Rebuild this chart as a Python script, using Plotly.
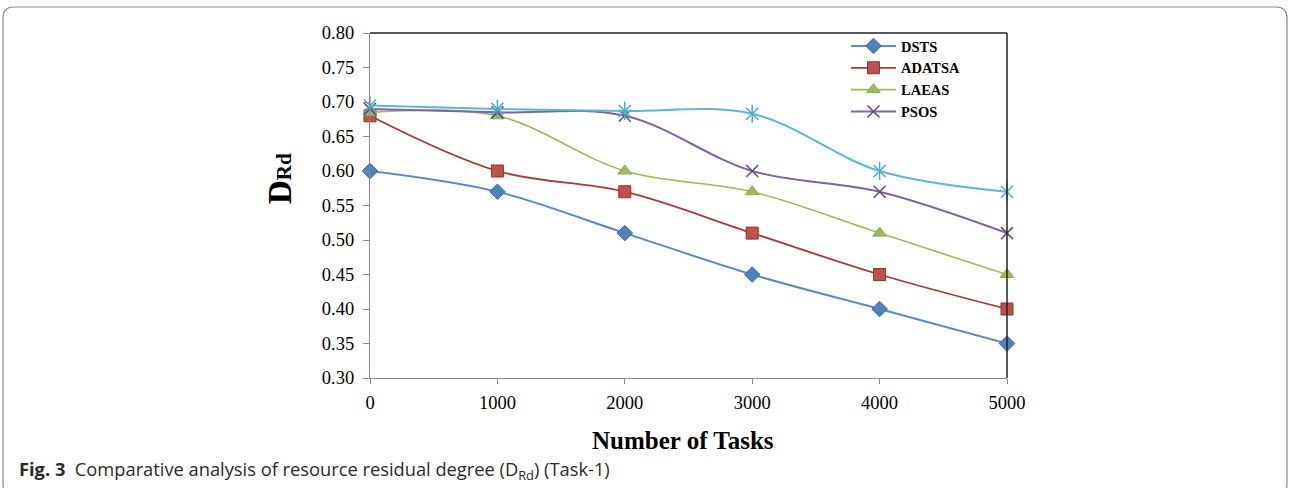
import plotly.graph_objects as go

tasks = [0, 1000, 2000, 3000, 4000, 5000]
dsts = [0.60, 0.57, 0.51, 0.45, 0.40, 0.35]
adatsa = [0.68, 0.60, 0.57, 0.51, 0.45, 0.40]
laeas = [0.685, 0.68, 0.60, 0.57, 0.51, 0.45]
psos = [0.69, 0.685, 0.68, 0.60, 0.57, 0.51]
fifth = [0.695, 0.69, 0.687, 0.683, 0.60, 0.57]
y_ticks = [0.30, 0.35, 0.40, 0.45, 0.50, 0.55, 0.60, 0.65, 0.70, 0.75, 0.80]
x_ticks = [0, 1000, 2000, 3000, 4000, 5000]

W, H = 1290, 488
L, R, T, B = 370, 1007, 33, 378  # plot area pixel bounds
pw, ph = R - L, B - T

def px(x):
    return (x - L) / pw

def py(y):
    return (B - y) / ph

fig = go.Figure()
serif = "Liberation Serif"

def add(name, ys, lcolor, lwidth, symbol, mfill, mline, msize, show=True):
    fig.add_trace(go.Scatter(
        x=tasks, y=ys, name=name, mode="lines+markers",
        line=dict(color=lcolor, width=lwidth, shape="spline", smoothing=1),
        marker=dict(symbol=symbol, size=msize, color=mfill,
                    line=dict(color=mline, width=1.5 if "open" in symbol else 1)),
        cliponaxis=False, showlegend=show))

add("DSTS", dsts, "#5B8BC8", 2, "diamond", "#4F81BD", "#3B6CA8", 12)
add("ADATSA", adatsa, "#A33C3A", 1.8, "square", "#C0504D", "#8E3330", 12)
add("LAEAS", laeas, "#9BBB59", 1.6, "triangle-up", "#9BBB59", "#8EAD4E", 12)
add("PSOS", psos, "#8064A2", 2, "x-thin-open", "#5E4A80", "#5E4A80", 12)
# fifth (unlabelled) series with star markers
add("", fifth, "#5BB8D4", 2, "x-thin-open", "#4BACC6", "#4BACC6", 12, show=False)
fig.add_trace(go.Scatter(
    x=tasks, y=fifth, mode="markers", showlegend=False, cliponaxis=False,
    marker=dict(symbol="line-ns-open", size=13, color="#4BACC6",
                line=dict(color="#4BACC6", width=1.5))))

shapes = [
    dict(type="line", xref="paper", yref="paper", x0=0, x1=1, y0=1, y1=1,
         line=dict(color="#222", width=1.5)),
    dict(type="line", xref="paper", yref="paper", x0=1, x1=1, y0=0, y1=1,
         line=dict(color="#222", width=1.5)),
]
x0, x1, y0, y1, r = 3, 1287, 7, 495, 11
path = (f"M {px(x0+r)},{py(y0)} L {px(x1-r)},{py(y0)} "
        f"Q {px(x1)},{py(y0)} {px(x1)},{py(y0+r)} "
        f"L {px(x1)},{py(y1-r)} Q {px(x1)},{py(y1)} {px(x1-r)},{py(y1)} "
        f"L {px(x0+r)},{py(y1)} Q {px(x0)},{py(y1)} {px(x0)},{py(y1-r)} "
        f"L {px(x0)},{py(y0+r)} Q {px(x0)},{py(y0)} {px(x0+r)},{py(y0)} Z")
shapes.append(dict(type="path", xref="paper", yref="paper", path=path,
                   line=dict(color="#8a8a8a", width=1.2), layer="below"))

annotations = [
    dict(xref="paper", yref="paper", x=px(280), y=py(179), textangle=-90,
         text="<b>D<span style='font-size:21px'>Rd</span></b>",
         showarrow=False, font=dict(family=serif, size=33, color="black"),
         xanchor="center", yanchor="middle"),
    dict(xref="paper", yref="paper", x=px(683), y=py(440),
         text="<b>Number of Tasks</b>", showarrow=False,
         font=dict(family=serif, size=25, color="black"),
         xanchor="center", yanchor="middle"),
    dict(xref="paper", yref="paper", x=px(17), y=py(470),
         text="<b>Fig. 3</b>  Comparative analysis of resource residual degree (D<sub>Rd</sub>) (Task-1)",
         showarrow=False, font=dict(family="Open Sans", size=18.3, color="#2a2a2a"),
         xanchor="left", yanchor="middle"),
]

fig.update_layout(
    width=W, height=H,
    margin=dict(l=L, r=W - R, t=T, b=H - B, autoexpand=False),
    paper_bgcolor="white", plot_bgcolor="white",
    shapes=shapes, annotations=annotations,
    legend=dict(x=px(846), y=py(30), xanchor="left", yanchor="top",
                font=dict(family=serif, size=14.5, color="black", weight="bold"),
                itemwidth=45, tracegroupgap=0, bgcolor="rgba(0,0,0,0)"),
    xaxis=dict(range=[0, 5000], tickvals=x_ticks, ticktext=[str(v) for v in x_ticks],
               showgrid=False, zeroline=False, showline=True, linecolor="#8a8a8a",
               linewidth=1.2, ticks="outside", ticklen=5, tickcolor="#8a8a8a",
               ticklabelstandoff=3,
               tickfont=dict(family=serif, size=18.5, color="black")),
    yaxis=dict(range=[0.30, 0.80], tickvals=y_ticks, tickformat=".2f",
               showgrid=False, zeroline=False, showline=True, linecolor="#8a8a8a",
               linewidth=1.2, ticks="outside", ticklen=6, tickcolor="#8a8a8a",
               ticklabelstandoff=5,
               tickfont=dict(family=serif, size=18.5, color="black")),
)

fig.write_html("out.html", config={"displayModeBar": False},
               post_script="document.body.style.margin='0';document.body.style.overflow='hidden';")
